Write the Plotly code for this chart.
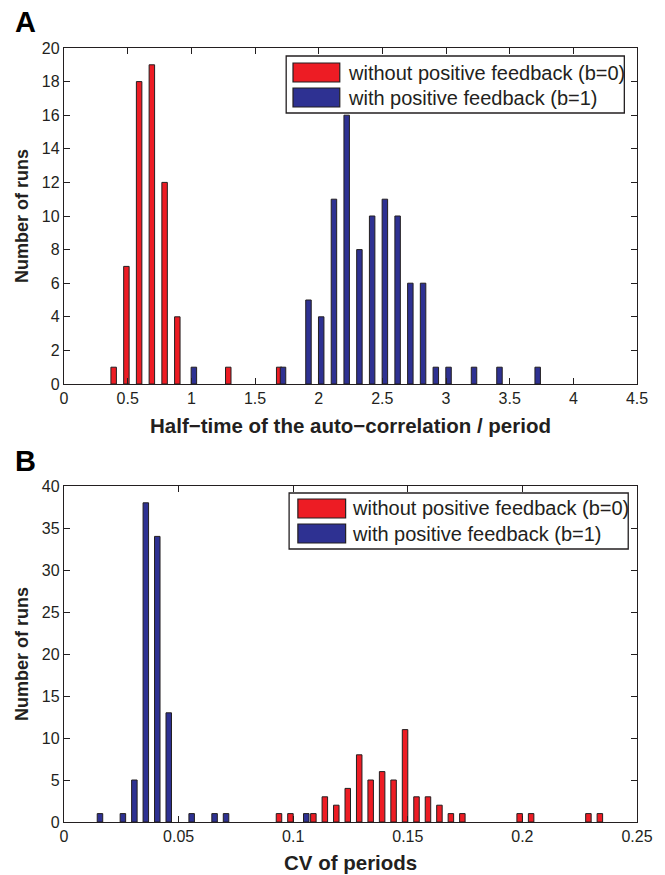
import plotly.graph_objects as go

# ---------------- data ----------------
# Panel A: half-time of the auto-correlation / period
a_red_x = [0.39, 0.49, 0.59, 0.69, 0.79, 0.89, 1.29, 1.69]
a_red_y = [1, 7, 18, 19, 12, 4, 1, 1]
a_blue_x = [1.02, 1.72, 1.92, 2.02, 2.12, 2.22, 2.32, 2.42, 2.52, 2.62, 2.72, 2.82,
            2.92, 3.02, 3.22, 3.42, 3.72]
a_blue_y = [1, 1, 5, 4, 11, 16, 8, 10, 11, 10, 6, 6, 1, 1, 1, 1, 1]

# Panel B: CV of periods
b_red_x = [0.0938, 0.0988, 0.1088, 0.1138, 0.1188, 0.1238, 0.1288, 0.1338, 0.1388,
           0.1438, 0.1488, 0.1538, 0.1588, 0.1638, 0.1688, 0.1738, 0.1988, 0.2038,
           0.2288, 0.2338]
b_red_y = [1, 1, 1, 3, 2, 4, 8, 5, 6, 5, 11, 3, 3, 2, 1, 1, 1, 1, 1, 1]
b_blue_x = [0.0157, 0.0257, 0.0307, 0.0357, 0.0407, 0.0457, 0.0557, 0.0657, 0.0707, 0.1057]
b_blue_y = [1, 1, 5, 38, 34, 13, 1, 1, 1, 1]

series_names = ["without positive feedback (b=0)", "with positive feedback (b=1)"]
panel_labels = ["A", "B"]
x_titles = ["Half\u2212time of the auto\u2212correlation / period", "CV of periods"]
y_title = "Number of runs"

RED = "#ED1C24"
BLUE = "#2E3192"
EDGE = "#231F20"
TXT = "#231F20"
FONT = "Liberation Sans, Arial, sans-serif"

# pixel -> paper helpers (plot area: x 64..652, y 48..822)
L, R, T, B = 64, 13, 48, 53
W, H = 665, 875
PW, PH = W - L - R, H - T - B


def fx(px):
    return (px - L) / PW


def fy(py):
    return (H - B - py) / PH


fig = go.Figure()
bar_line = dict(color=EDGE, width=1)
fig.add_trace(go.Bar(x=a_red_x, y=a_red_y, width=0.043, marker=dict(color=RED, line=bar_line),
                     xaxis="x", yaxis="y", name=series_names[0]))
fig.add_trace(go.Bar(x=a_blue_x, y=a_blue_y, width=0.043, marker=dict(color=BLUE, line=bar_line),
                     xaxis="x", yaxis="y", name=series_names[1]))
fig.add_trace(go.Bar(x=b_red_x, y=b_red_y, width=0.0024, marker=dict(color=RED, line=bar_line),
                     xaxis="x2", yaxis="y2", name=series_names[0]))
fig.add_trace(go.Bar(x=b_blue_x, y=b_blue_y, width=0.0024, marker=dict(color=BLUE, line=bar_line),
                     xaxis="x2", yaxis="y2", name=series_names[1]))

axis_common = dict(showline=True, linecolor="#231F20", linewidth=1.3, mirror="ticks",
                   ticks="inside", ticklen=6, tickcolor="#231F20", tickwidth=1,
                   showgrid=False, zeroline=False,
                   tickfont=dict(family=FONT, size=16, color=TXT))

a_bottom = fy(384)
b_top = fy(486)

fig.update_layout(
    width=W, height=H,
    margin=dict(l=L, r=R, t=T, b=B),
    paper_bgcolor="white", plot_bgcolor="white",
    barmode="overlay", showlegend=False,
    xaxis=dict(domain=[0, 1], anchor="y", range=[0, 4.5], dtick=0.5, tick0=0, **axis_common),
    yaxis=dict(domain=[a_bottom, 1], anchor="x", range=[0, 20], dtick=2, tick0=0, **axis_common),
    xaxis2=dict(domain=[0, 1], anchor="y2", range=[0, 0.25], dtick=0.05, tick0=0, **axis_common),
    yaxis2=dict(domain=[0, b_top], anchor="x2", range=[0, 40], dtick=5, tick0=0, **axis_common),
)

shapes = []
annotations = []

# custom legends (box + wide patches + text), one per panel
legend_specs = [
    dict(box=(292, 56, 639, 113), patch_x=(299, 347), rows=((63, 82), (88, 107)), text_x=353),
    dict(box=(295, 493, 643, 549), patch_x=(304, 353), rows=((499, 518), (524, 543)), text_x=357),
]
for spec in legend_specs:
    x0, y0, x1, y1 = spec["box"]
    shapes.append(dict(type="rect", xref="paper", yref="paper", x0=fx(x0), x1=fx(x1),
                       y0=fy(y1), y1=fy(y0), line=dict(color="#231F20", width=1.3),
                       fillcolor="white", layer="above"))
    for (ry0, ry1), col, name in zip(spec["rows"], [RED, BLUE], series_names):
        shapes.append(dict(type="rect", xref="paper", yref="paper",
                           x0=fx(spec["patch_x"][0]), x1=fx(spec["patch_x"][1]),
                           y0=fy(ry1), y1=fy(ry0), line=dict(color=EDGE, width=1.2),
                           fillcolor=col, layer="above"))
        annotations.append(dict(xref="paper", yref="paper", x=fx(spec["text_x"]),
                                y=fy((ry0 + ry1) / 2), text=name, showarrow=False,
                                xanchor="left", yanchor="middle",
                                font=dict(family=FONT, size=20, color=TXT)))

# panel letters
for lab, py in zip(panel_labels, [22, 461]):
    annotations.append(dict(xref="paper", yref="paper", x=fx(24), y=fy(py), text=lab,
                            showarrow=False, xanchor="center", yanchor="middle",
                            font=dict(family=FONT, size=29, color="black", weight="bold")))

# axis titles
for xt, py in zip(x_titles, [425, 862]):
    annotations.append(dict(xref="paper", yref="paper", x=fx(358), y=fy(py), text=xt,
                            showarrow=False, xanchor="center", yanchor="middle",
                            font=dict(family=FONT, size=20.5, color=TXT, weight="bold")))
for py in [216, 654]:
    annotations.append(dict(xref="paper", yref="paper", x=fx(21), y=fy(py), text=y_title,
                            showarrow=False, xanchor="center", yanchor="middle", textangle=-90,
                            font=dict(family=FONT, size=18, color=TXT, weight="bold")))

fig.update_layout(shapes=shapes, annotations=annotations)
fig.write_html("out.html", config={"displayModeBar": False},
               post_script="document.body.style.margin='0';document.body.style.padding='0';")
